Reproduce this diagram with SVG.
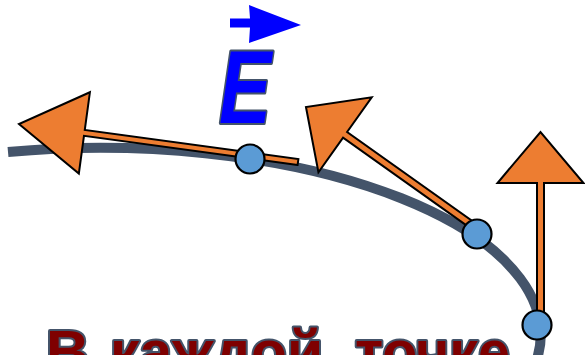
<svg xmlns="http://www.w3.org/2000/svg" width="585" height="355" viewBox="0 0 585 355">
  <style>
    .vec { fill: #ed7d31; stroke: #000; stroke-width: 2; stroke-linejoin: miter; }
    .pt { fill: #5b9bd5; stroke: #000; stroke-width: 2.2; }
    .line { fill: none; stroke: #44546a; stroke-width: 10; }
    .cap { font-family: "Liberation Sans", Arial, sans-serif; font-weight: bold; font-size: 60px; fill: #7f0000; stroke: #44546a; stroke-width: 4; stroke-linejoin: round; paint-order: stroke; }
    .e { font-family: "Liberation Sans", Arial, sans-serif; font-weight: bold; font-style: italic; font-size: 103px; fill: #0000ff; stroke: #44546a; stroke-width: 4; stroke-linejoin: round; paint-order: stroke; }
  </style>
  <rect width="585" height="355" fill="#ffffff"/>
  <g id="caption">
    <text class="cap" y="372"><tspan x="46">В</tspan><tspan x="110" textLength="213" lengthAdjust="spacingAndGlyphs">каждой</tspan><tspan x="355" textLength="155" lengthAdjust="spacingAndGlyphs">точке</tspan></text>
  </g>
  <g id="field-line">
    <path class="line" d="M8,152 A440,187 0 0 1 536,362"/>
  </g>
  <g id="connectors">
    <polygon id="vec1" class="vec" transform="translate(298,162) rotate(187.76)" points="0,-3 215.6,-3 215.6,-41 281.6,0 215.6,41 215.6,3 0,3"/>
    <polygon id="vec2" class="vec" transform="translate(472,225) rotate(215.4)" points="0,-3.5 155.7,-3.5 155.7,-46 203.7,0 155.7,46 155.7,3.5 0,3.5"/>
    <polygon id="vec3" class="vec" transform="translate(540.5,318) rotate(-90)" points="0,-3.5 135,-3.5 135,-43 186,0 135,43 135,3.5 0,3.5"/>
  </g>
  <g id="point1"><circle class="pt" cx="250" cy="159" r="14.5"/></g>
  <g id="point2"><circle class="pt" cx="477" cy="234" r="14.5"/></g>
  <g id="point3"><circle class="pt" cx="537" cy="325" r="14.5"/></g>
  <g id="label-E">
    <polygon fill="#0000ff" points="230,18.5 250,18.5 249,5 301,25 249,43 250,27.5 230,27.5"/>
    <text class="e" transform="translate(219,123) scale(0.76,1)" x="0" y="0">E</text>
  </g>
</svg>
